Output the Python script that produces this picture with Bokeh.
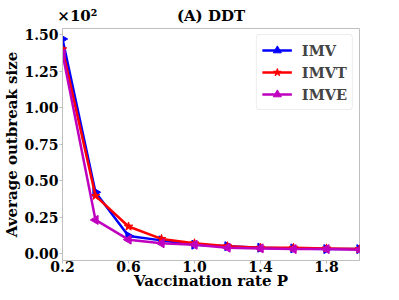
from bokeh.plotting import figure
from bokeh.models import (Range1d, FixedTicker, NumeralTickFormatter, Legend, LinearAxis,
                          CustomJSTickFormatter)
from bokeh.embed import file_html
from bokeh.resources import INLINE

p_values = [0.2, 0.4, 0.6, 0.8, 1.0, 1.2, 1.4, 1.6, 1.8, 2.0]
imv = [1.47, 0.42, 0.12, 0.09, 0.06, 0.05, 0.04, 0.035, 0.03, 0.03]
imvt = [1.40, 0.395, 0.185, 0.10, 0.07, 0.05, 0.04, 0.04, 0.035, 0.03]
imve = [1.37, 0.23, 0.095, 0.07, 0.06, 0.04, 0.035, 0.03, 0.03, 0.025]
x_ticks = [0.2, 0.6, 1.0, 1.4, 1.8]
y_ticks = [0.0, 0.25, 0.5, 0.75, 1.0, 1.25, 1.5]
title_text = "(A) DDT"
scale_text = "×10²"
x_label = "Vaccination rate P"
y_label = "Average outbreak size"

FONT = "DejaVu Serif"

p = figure(width=391, height=292, output_backend="svg", toolbar_location=None, title=None,
           x_range=Range1d(0.2, 2.0), y_range=Range1d(-0.048, 1.542),
           min_border_left=10, min_border_right=32, min_border_top=28, min_border_bottom=0)

p.xgrid.visible = False
p.ygrid.visible = False
p.outline_line_color = "#bfbfbf"
p.outline_line_width = 1

for ax in (p.xaxis[0], p.yaxis[0]):
    ax.axis_line_color = "#bfbfbf"
    ax.major_tick_line_color = "#bfbfbf"
    ax.minor_tick_line_color = None
    ax.major_tick_in = 0
    ax.major_tick_out = 3
    ax.major_label_standoff = 1
    ax.axis_label_standoff = 0
    ax.major_label_text_font = FONT
    ax.major_label_text_font_style = "bold"
    ax.major_label_text_font_size = "14px"
    ax.major_label_text_color = "black"
    ax.axis_label_text_font = FONT
    ax.axis_label_text_font_style = "bold"
    ax.axis_label_text_font_size = "15px"
    ax.axis_label_text_color = "black"

p.xaxis.major_label_standoff = -3
p.xaxis.ticker = FixedTicker(ticks=x_ticks)
p.xaxis.formatter = NumeralTickFormatter(format="0.0")
p.yaxis.ticker = FixedTicker(ticks=y_ticks)
p.yaxis.formatter = NumeralTickFormatter(format="0.00")
p.yaxis.axis_label = y_label

# x-axis title carried by a second, bare axis (tighter than axis_label)
xlab = LinearAxis(ticker=FixedTicker(ticks=[1.1]),
                  formatter=CustomJSTickFormatter(args=dict(t=x_label), code="return t;"),
                  axis_line_color=None, major_tick_line_color=None,
                  minor_tick_line_color=None, major_tick_in=0, major_tick_out=0,
                  major_label_standoff=-3, major_label_text_font=FONT,
                  major_label_text_font_style="bold", major_label_text_font_size="15px",
                  major_label_text_color="black")
p.add_layout(xlab, "below")

# scale note (top left) and panel title (centre) on one bare top axis
top = LinearAxis(ticker=FixedTicker(ticks=[0.29, 1.1]),
                 formatter=CustomJSTickFormatter(args=dict(a=scale_text, b=title_text),
                                                 code="return tick < 0.7 ? a : b;"),
                 axis_line_color=None, major_tick_line_color=None,
                 minor_tick_line_color=None, major_tick_in=0, major_tick_out=0,
                 major_label_standoff=4, major_label_text_font=FONT,
                 major_label_text_font_style="bold", major_label_text_font_size="15px",
                 major_label_text_color="black")
p.add_layout(top, "above")

series = [
    ("IMV", imv, "blue", "triangle", -90),
    ("IMVT", imvt, "red", "star", 0),
    ("IMVE", imve, "#bf00bf", "triangle", 90),
]
items = []
for name, ys, col, mk, ang in series:
    l = p.line(p_values, ys, line_color=col, line_width=2.5)
    s = p.scatter(x=p_values, y=ys, marker=mk, angle=ang, angle_units="deg", size=9,
                  fill_color=col, line_color=col)
    items.append((name, [l, s]))

legend = Legend(items=items, location="top_right")
legend.label_text_font = FONT
legend.label_text_font_style = "bold"
legend.label_text_font_size = "14.5px"
legend.label_height = 20
legend.glyph_height = 20
legend.glyph_width = 30
legend.spacing = 2
legend.padding = 5
legend.margin = 6
legend.label_standoff = 10
legend.border_line_color = "#d9d9d9"
legend.background_fill_alpha = 0.8
try:
    legend.border_radius = 4
except Exception:
    pass
p.add_layout(legend)

open("out.html", "w").write(file_html(p, INLINE))
